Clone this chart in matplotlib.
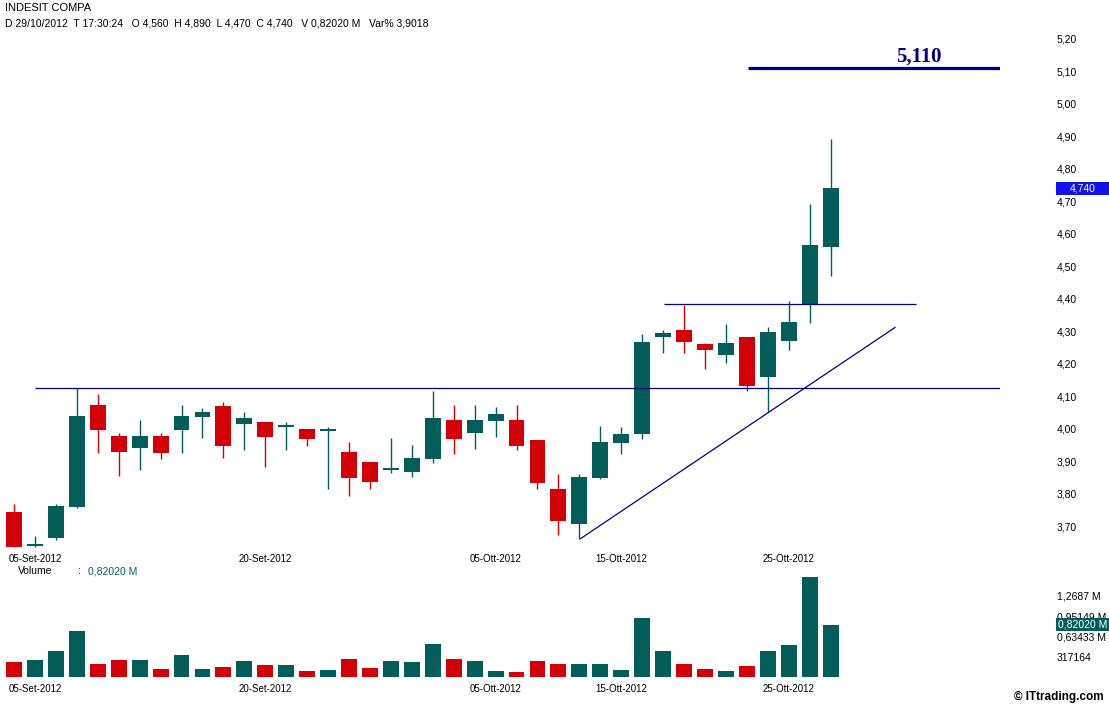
import matplotlib
matplotlib.use("Agg")
import matplotlib.pyplot as plt
from matplotlib.patches import Rectangle
from matplotlib.transforms import blended_transform_factory
import numpy as np

plt.rcParams['font.family'] = ['Liberation Sans', 'DejaVu Sans']

# daily OHLC, 04-Set-2012 .. 29-Ott-2012
opens = [3.742, 3.640, 3.664, 3.759, 4.071, 3.976, 3.939, 3.976, 3.995, 4.035,
         4.068, 4.014, 4.019, 4.004, 3.997, 3.993, 3.928, 3.897, 3.873, 3.867,
         3.906, 4.025, 3.986, 4.023, 4.025, 3.964, 3.814, 3.707, 3.848, 3.956,
         3.983, 4.282, 4.303, 4.260, 4.227, 4.281, 4.159, 4.268, 4.382, 4.560]
highs = [3.767, 3.668, 3.767, 4.125, 4.105, 3.985, 4.025, 3.985, 4.071, 4.062,
         4.083, 4.050, 4.020, 4.019, 3.998, 4.006, 3.958, 3.898, 3.970, 3.948,
         4.114, 4.071, 4.071, 4.065, 4.071, 3.965, 3.859, 3.861, 4.007, 4.004,
         4.291, 4.302, 4.381, 4.262, 4.323, 4.282, 4.312, 4.392, 4.691, 4.890]
lows = [3.636, 3.636, 3.658, 3.755, 3.926, 3.854, 3.873, 3.905, 3.926, 3.971,
        3.909, 3.934, 3.882, 3.934, 3.946, 3.814, 3.793, 3.813, 3.864, 3.851,
        3.894, 3.922, 3.937, 3.974, 3.934, 3.814, 3.673, 3.660, 3.845, 3.922,
        3.967, 4.231, 4.231, 4.184, 4.202, 4.116, 4.052, 4.241, 4.326, 4.470]
closes = [3.636, 3.645, 3.761, 4.040, 3.995, 3.928, 3.976, 3.925, 4.037, 4.050,
          3.946, 4.031, 3.974, 4.010, 3.967, 3.997, 3.847, 3.836, 3.879, 3.909,
          4.031, 3.968, 4.025, 4.044, 3.946, 3.833, 3.716, 3.850, 3.958, 3.982,
          4.265, 4.294, 4.267, 4.241, 4.263, 4.132, 4.297, 4.327, 4.564, 4.740]
# volume in millions
volumes = [0.227, 0.259, 0.405, 0.712, 0.210, 0.259, 0.259, 0.130, 0.340, 0.130,
           0.162, 0.243, 0.194, 0.194, 0.097, 0.113, 0.275, 0.146, 0.243, 0.227,
           0.518, 0.275, 0.243, 0.097, 0.081, 0.243, 0.208, 0.205, 0.205, 0.108,
           0.917, 0.405, 0.205, 0.124, 0.092, 0.173, 0.405, 0.502, 1.565, 0.8202]

date_ticks = [1, 12, 23, 29, 37]
date_labels = ['05-Set-2012', '20-Set-2012', '05-Ott-2012', '15-Ott-2012', '25-Ott-2012']

price_ticks = [3.7, 3.8, 3.9, 4.0, 4.1, 4.2, 4.3, 4.4, 4.5, 4.6, 4.7, 4.8, 4.9, 5.0, 5.1, 5.2]
vol_step = 0.317164
vol_ticks = [vol_step, 2 * vol_step, 3 * vol_step, 4 * vol_step]
vol_labels = ['317164', '0,63433 M', '0,95149 M', '1,2687 M']

# drawn lines: (x0, y0, x1, y1)
support_line = (1.0, 4.126, 47.5, 4.126)
breakout_line = (31.04, 4.383, 43.1, 4.383)
trend_line = (27.03, 3.660, 42.1, 4.312)
target_line = (35.05, 5.110, 47.5, 5.110)
target_text = '5,110'

last_close = 4.740
last_volume = 0.8202

TEAL = '#035e5a'
RED = '#d30008'
NAVY = '#000080'

W, H = 1109, 705
fig = plt.figure(figsize=(W / 100, H / 100), dpi=100)
ax = fig.add_axes([0, (H - 550) / H, 1000 / W, 520 / H])
axv = fig.add_axes([0, (H - 677) / H, 1000 / W, 102 / H])

n = len(opens)
x = np.arange(n)
o = np.array(opens)
c = np.array(closes)
up = c >= o
cols = [TEAL if u else RED for u in up]

ax.vlines(x, lows, highs, colors=cols, linewidth=1.0, zorder=2)
body_lo = np.minimum(o, c)
body_h = np.maximum(np.abs(c - o), 0.006)
ax.bar(x, body_h, bottom=body_lo, width=0.76, color=cols, linewidth=0, zorder=3)

for (x0, y0, x1, y1), lw in [(support_line, 0.9), (breakout_line, 0.9),
                             (trend_line, 0.9), (target_line, 2.3)]:
    ax.plot([x0, x1], [y0, y1], color=NAVY, linewidth=lw, zorder=4,
            solid_capstyle='butt')
ax.text(43.2, 5.110 + 0.004, target_text, ha='center', va='bottom',
        fontsize=15, fontweight='bold', family='Liberation Serif', color=NAVY)

ax.set_xlim(-0.67, 47.09)
ax.set_ylim(3.6262, 5.2262)
ax.set_xticks(date_ticks)
ax.set_xticklabels(date_labels)
ax.set_yticks(price_ticks)
ax.set_yticklabels([f'{v:.2f}'.replace('.', ',') for v in price_ticks])
ax.yaxis.tick_right()
ax.tick_params(axis='y', length=0, pad=41, labelsize=7.5)
ax.tick_params(axis='x', length=0, pad=3, labelsize=7)

tr = blended_transform_factory(ax.transAxes, ax.transData)
ax.add_patch(Rectangle((1.056, last_close - 0.02), 0.06, 0.04, transform=tr,
                       facecolor='#1212f0', edgecolor='none', clip_on=False, zorder=5))
ax.text(1.0825, last_close, f'{last_close:.3f}'.replace('.', ','), transform=tr,
        ha='center', va='center', color='white', fontsize=7.5, zorder=6)

axv.bar(x, volumes, width=0.76, color=cols, linewidth=0)
axv.set_xlim(-0.67, 47.09)
axv.set_ylim(0, 1.594)
axv.set_xticks(date_ticks)
axv.set_xticklabels(date_labels)
axv.set_yticks(vol_ticks)
axv.set_yticklabels(vol_labels)
axv.yaxis.tick_right()
axv.tick_params(axis='y', length=0, pad=41, labelsize=7.5)
axv.tick_params(axis='x', length=0, pad=5, labelsize=7)

# current-volume marker covers the tick label just above it, as in the source chart
trv = blended_transform_factory(axv.transAxes, axv.transData)
axv.add_patch(Rectangle((1.0557, last_volume - 0.109), 0.06, 0.218, transform=trv,
                        facecolor=TEAL, edgecolor='none', clip_on=False, zorder=5))
axv.text(1.058, last_volume, f'{last_volume:.5f}'.replace('.', ',') + ' M', transform=trv,
         ha='left', va='center', color='white', fontsize=7.5, zorder=6)

for a in (ax, axv):
    for s in a.spines.values():
        s.set_visible(False)

fig.text(5 / W, 1 - 8 / H, 'INDESIT COMPA', fontsize=8, va='center')
fig.text(5 / W, 1 - 23 / H,
         'D 29/10/2012  T 17:30:24   O 4,560  H 4,890  L 4,470  C 4,740   V 0,82020 M   Var% 3,9018',
         fontsize=7.5, va='center')
fig.text(18 / W, 1 - 571 / H, 'Volume', fontsize=7.5, va='center')
fig.text(78 / W, 1 - 571 / H, ':', fontsize=7.5, va='center')
fig.text(88 / W, 1 - 571 / H, '0,82020 M', fontsize=7.5, va='center', color=TEAL)
fig.text(1104 / W, 1 - 697 / H, '\u00a9 ITtrading.com', fontsize=8.5, fontweight='bold',
         ha='right', va='center')

fig.savefig('out.png', dpi=100)
